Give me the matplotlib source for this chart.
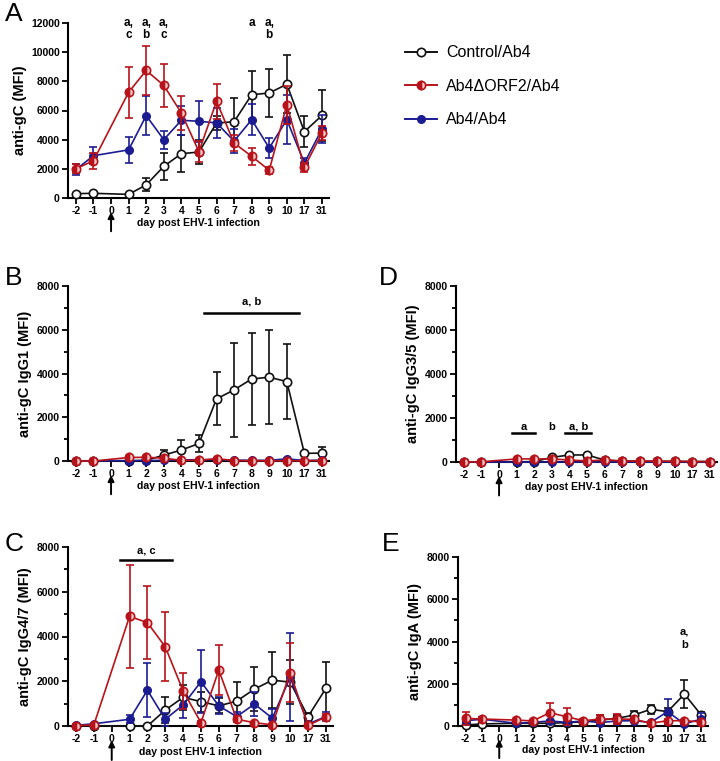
import numpy as np
import matplotlib
matplotlib.use("Agg")
import matplotlib.pyplot as plt
from matplotlib.lines import Line2D
from matplotlib.ticker import MultipleLocator
import matplotlib.transforms as mtransforms

plt.rcParams['font.family'] = ['Liberation Sans', 'DejaVu Sans']

# ── data ────────────────────────────────────────────────────────────────────
tick_labels = ['-2', '-1', '0', '1', '2', '3', '4', '5', '6', '7', '8', '9', '10', '17', '31']
days = ['-2', '-1', '1', '2', '3', '4', '5', '6', '7', '8', '9', '10', '17', '31']

# panel A: anti-gC
a_ctrl = [300, 320, 250, 900, 2170, 3040, 3150, 5140, 5230, 7080, 7200, 7800, 4550, 5660]
a_ctrl_sd = [60, 60, 50, 450, 950, 1250, 800, 500, 1600, 1650, 1650, 2000, 1050, 1750]
a_orf2 = [2000, 2560, 7250, 8750, 7720, 5830, 3180, 6630, 3770, 2860, 1900, 6400, 2100, 4460]
a_orf2_sd = [300, 550, 1750, 1700, 1480, 1150, 700, 1200, 550, 600, 250, 1300, 300, 500]
a_ab4 = [1950, 2900, 3300, 5650, 4000, 5330, 5260, 5150, 3900, 5370, 3430, 5370, 2400, 4730]
a_ab4_sd = [350, 600, 870, 1350, 620, 1000, 1400, 1050, 800, 1050, 680, 1700, 350, 950]

# panel B: anti-gC IgG1
b_ctrl = [0, 0, 0, 30, 270, 500, 800, 2840, 3250, 3750, 3830, 3630, 350, 360]
b_ctrl_sd = [0, 0, 0, 20, 230, 480, 400, 1210, 2160, 2100, 2150, 1720, 80, 270]
b_orf2 = [0, 0, 160, 170, 130, 30, 30, 110, 20, 10, 10, 10, 10, 20]
b_orf2_sd = [0, 0, 40, 40, 30, 10, 10, 30, 10, 0, 0, 0, 0, 10]
b_ab4 = [0, 0, 20, 20, 30, 50, 60, 60, 40, 30, 30, 100, 20, 40]
b_ab4_sd = [0, 0, 10, 10, 10, 10, 20, 20, 10, 10, 10, 30, 10, 10]

# panel C: anti-gC IgG4/7
c_ctrl = [0, 0, 0, 0, 710, 1280, 1090, 900, 1110, 1650, 2050, 1960, 420, 1680]
c_ctrl_sd = [0, 0, 0, 0, 570, 550, 450, 330, 850, 1000, 1260, 990, 180, 1200]
c_orf2 = [20, 50, 4900, 4620, 3540, 1570, 150, 2500, 300, 150, 50, 2380, 30, 400]
c_orf2_sd = [0, 0, 2300, 1640, 1540, 810, 80, 1100, 100, 50, 20, 1320, 20, 150]
c_ab4 = [30, 100, 300, 1600, 300, 940, 1980, 900, 420, 980, 350, 2180, 90, 420]
c_ab4_sd = [10, 20, 170, 1200, 300, 580, 1410, 380, 200, 540, 400, 1970, 50, 200]

# panel D: anti-gC IgG3/5
d_ctrl = [0, 0, 0, 20, 210, 320, 320, 90, 40, 40, 30, 30, 20, 20]
d_ctrl_sd = [0, 0, 0, 10, 40, 60, 60, 20, 10, 10, 10, 10, 10, 10]
d_orf2 = [0, 10, 140, 140, 140, 90, 50, 90, 50, 40, 40, 30, 20, 20]
d_orf2_sd = [0, 0, 30, 30, 30, 20, 10, 20, 10, 10, 10, 10, 10, 10]
d_ab4 = [20, 20, 20, 20, 20, 20, 20, 20, 20, 20, 20, 20, 20, 20]
d_ab4_sd = [0, 0, 0, 0, 0, 0, 0, 0, 0, 0, 0, 0, 0, 0]

# panel E: anti-gC IgA
e_ctrl = [50, 100, 130, 130, 130, 160, 200, 280, 360, 520, 790, 680, 1510, 520]
e_ctrl_sd = [30, 40, 40, 40, 40, 40, 50, 250, 150, 200, 200, 150, 670, 160]
e_orf2 = [360, 330, 280, 240, 630, 440, 250, 330, 330, 320, 130, 250, 250, 200]
e_orf2_sd = [320, 60, 50, 40, 440, 400, 60, 200, 220, 60, 40, 60, 50, 50]
e_ab4 = [250, 320, 130, 170, 240, 170, 240, 160, 240, 250, 170, 680, 100, 330]
e_ab4_sd = [60, 100, 40, 40, 60, 40, 50, 40, 50, 50, 40, 580, 30, 300]

# ── styling ─────────────────────────────────────────────────────────────────
BLACK = "#111111"
RED = "#b8131b"
BLUE = "#1c1c92"
pos = [tick_labels.index(d) for d in days]

fig = plt.figure(figsize=(7.2, 7.61), dpi=100)
W, H = 720, 761


def make_ax(left, bottom, width, height):
    return fig.add_axes([left / W, 1 - bottom / H, width / W, height / H])


def series(ax, vals, sd, color, style, z):
    vals = np.array(vals, dtype=float)
    sd = np.array(sd, dtype=float)
    lower = np.minimum(sd, vals)
    ax.errorbar(pos, vals, yerr=[lower, sd], fmt='none', ecolor=color,
                elinewidth=1.2, capsize=3.2, capthick=1.2, zorder=z)
    if style == 'open':
        ax.plot(pos, vals, '-o', color=color, lw=1.2, ms=6, mfc='white',
                mec=color, mew=1.2, clip_on=False, zorder=z + 0.5)
    elif style == 'half':
        ax.plot(pos, vals, '-o', color=color, lw=1.2, ms=6, mfc=color,
                mfcalt='#f3c9c9', fillstyle='left', mec=color, mew=1.2,
                clip_on=False, zorder=z + 0.5)
    else:
        ax.plot(pos, vals, '-o', color=color, lw=1.2, ms=5.5, mfc=color,
                mec=color, clip_on=False, zorder=z + 0.5)


def panel(ax, ctrl, ctrl_sd, orf2, orf2_sd, ab4, ab4_sd, ymax, ylabel, minor=True):
    series(ax, ctrl, ctrl_sd, BLACK, 'open', 3)
    series(ax, ab4, ab4_sd, BLUE, 'full', 4)
    series(ax, orf2, orf2_sd, RED, 'half', 5)
    ax.set_xlim(-0.45, 14.4)
    ax.set_ylim(0, ymax)
    ax.set_xticks(range(len(tick_labels)))
    ax.set_xticklabels(tick_labels)
    ax.yaxis.set_major_locator(MultipleLocator(2000))
    if minor:
        ax.yaxis.set_minor_locator(MultipleLocator(1000))
    for s in ['top', 'right']:
        ax.spines[s].set_visible(False)
    for s in ['left', 'bottom']:
        ax.spines[s].set_linewidth(1.5)
    ax.tick_params(axis='both', which='major', length=4, width=1.3, labelsize=7.5, pad=2)
    ax.tick_params(axis='y', which='minor', length=3, width=1.3)
    for lab in ax.get_xticklabels() + ax.get_yticklabels():
        lab.set_fontweight('bold')
    ax.set_ylabel(ylabel, fontsize=10.5, fontweight='bold', labelpad=3)
    ax.set_xlabel("day post EHV-1 infection", fontsize=7.6, fontweight='bold', labelpad=1)
    ax.xaxis.set_label_coords(0.5, -0.115)
    # infection arrow under day 0
    trans = mtransforms.blended_transform_factory(ax.transData, ax.transAxes)
    ax.annotate('', xy=(2, -0.08), xytext=(2, -0.19), xycoords=trans, textcoords=trans,
                arrowprops=dict(arrowstyle='-|>', color='black', lw=1.4,
                                mutation_scale=9, shrinkA=0, shrinkB=0))


def sig_bar(ax, x0, x1, y, text, ty):
    ax.plot([x0, x1], [y, y], color='black', lw=1.8, clip_on=False)
    ax.text((x0 + x1) / 2, ty, text, ha='center', va='center', fontsize=8,
            fontweight='bold')


# A
axA = make_ax(68, 198, 261, 175)
panel(axA, a_ctrl, a_ctrl_sd, a_orf2, a_orf2_sd, a_ab4, a_ab4_sd, 12000, "anti-gC (MFI)", minor=False)
for d, t1, t2 in [('1', 'a,', 'c'), ('2', 'a,', 'b'), ('3', 'a,', 'c'), ('8', 'a', ''), ('9', 'a,', 'b')]:
    x = tick_labels.index(d)
    axA.text(x, 12000, t1, ha='center', va='center', fontsize=8.5, fontweight='bold')
    if t2:
        axA.text(x, 11150, t2, ha='center', va='center', fontsize=8.5, fontweight='bold')

# B
axB = make_ax(68, 461, 261, 175)
panel(axB, b_ctrl, b_ctrl_sd, b_orf2, b_orf2_sd, b_ab4, b_ab4_sd, 8000, "anti-gC IgG1 (MFI)")
sig_bar(axB, 7.3, 12.7, 6770, "a, b", 7270)

# C
axC = make_ax(68, 726, 265, 179)
panel(axC, c_ctrl, c_ctrl_sd, c_orf2, c_orf2_sd, c_ab4, c_ab4_sd, 8000, "anti-gC IgG4/7 (MFI)")
sig_bar(axC, 2.45, 5.4, 7400, "a, c", 7830)

# D
axD = make_ax(456, 462, 261, 176)
panel(axD, d_ctrl, d_ctrl_sd, d_orf2, d_orf2_sd, d_ab4, d_ab4_sd, 8000, "anti-gC IgG3/5 (MFI)")
sig_bar(axD, 2.75, 4.05, 1300, "a", 1600)
axD.text(5.0, 1600, "b", ha='center', va='center', fontsize=8, fontweight='bold')
sig_bar(axD, 5.75, 7.25, 1300, "a, b", 1600)

# E
axE = make_ax(458, 726, 250, 169)
panel(axE, e_ctrl, e_ctrl_sd, e_orf2, e_orf2_sd, e_ab4, e_ab4_sd, 8000, "anti-gC IgA (MFI)")
axE.text(13, 4460, "a,", ha='center', va='center', fontsize=8, fontweight='bold')
axE.text(13, 3830, "b", ha='center', va='center', fontsize=8, fontweight='bold')

# panel letters
for lab, x, y in [('A', 5, 2), ('B', 5, 266), ('C', 5, 532), ('D', 379, 266), ('E', 382, 532)]:
    fig.text(x / W, 1 - y / H, lab, fontsize=19, ha='left', va='top')

# legend
handles = [
    Line2D([], [], color=BLACK, lw=1.4, marker='o', ms=6, mfc='white', mec=BLACK, mew=1.2),
    Line2D([], [], color=RED, lw=1.4, marker='o', ms=6, mfc=RED, mfcalt='#f3c9c9',
           fillstyle='left', mec=RED, mew=1.2),
    Line2D([], [], color=BLUE, lw=1.4, marker='o', ms=5.5, mfc=BLUE, mec=BLUE),
]
fig.legend(handles, ["Control/Ab4", "Ab4\u0394ORF2/Ab4", "Ab4/Ab4"],
           loc='upper left', bbox_to_anchor=(391 / W, 1 - 31 / H), frameon=False,
           fontsize=11.5, handlelength=2.0, handletextpad=0.55, labelspacing=1.15)

fig.savefig("out.png", dpi=100, facecolor='white')
